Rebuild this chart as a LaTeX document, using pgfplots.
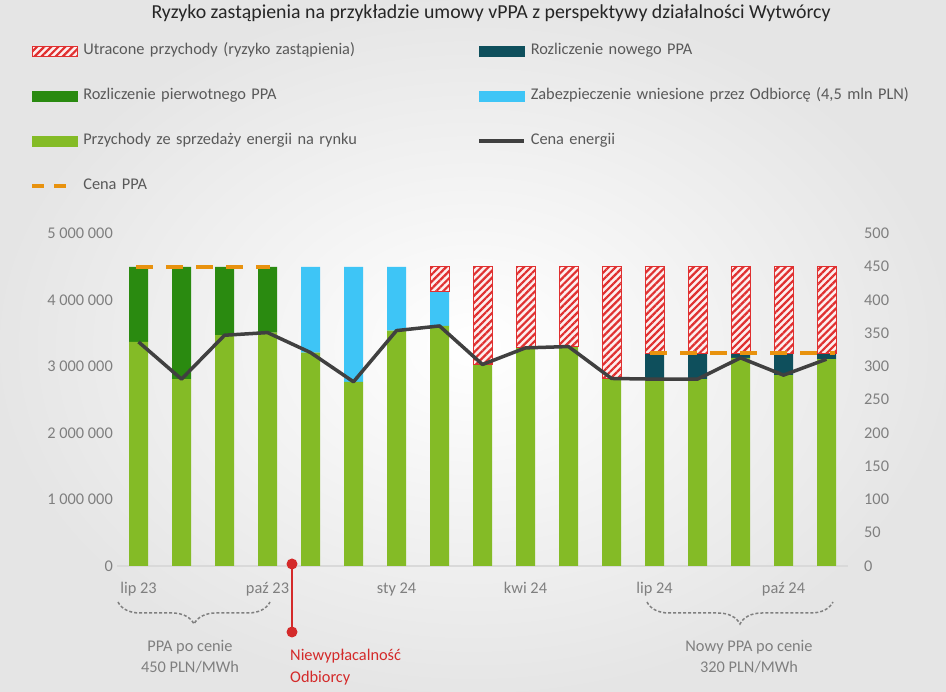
\documentclass[border=0pt]{standalone}
\usepackage{pgfplots}
\pgfplotsset{compat=1.18}
\usepackage{pgfplotstable}
\usepackage{fontspec}
\setmainfont{Carlito}
\usetikzlibrary{patterns,patterns.meta,decorations.pathreplacing}
\definecolor{cMarket}{HTML}{84BB26}
\definecolor{cOrig}{HTML}{2A8A10}
\definecolor{cSec}{HTML}{3EC5F6}
\definecolor{cNew}{HTML}{0E4F5C}
\definecolor{cLost}{HTML}{E03030}
\definecolor{cPrice}{HTML}{404040}
\definecolor{cPPA}{HTML}{E8920E}
\definecolor{cTick}{HTML}{7F7F7F}
\definecolor{cLeg}{HTML}{595959}
\definecolor{cRed}{HTML}{D42A2A}
\definecolor{cAxis}{HTML}{D9D9D9}

\pgfplotstableread{
x market orig sec new price
0 3370000 1130000 0 0 337
1 2810000 1690000 0 0 281
2 3470000 1030000 0 0 347
3 3510000 990000 0 0 351
4 3210000 0 1290000 0 321
5 2770000 0 1730000 0 277
6 3540000 0 960000 0 354
7 3610000 0 520000 0 361
8 3030000 0 0 0 303
9 3280000 0 0 0 328
10 3300000 0 0 0 330
11 2820000 0 0 0 282
12 2810000 0 0 390000 281
13 2810000 0 0 390000 281
14 3130000 0 0 70000 313
15 2870000 0 0 330000 287
16 3110000 0 0 90000 311
}\data

% lost revenue: base = level where the lost segment starts, lost = its height
\pgfplotstableread{
x base lost
7 4130000 370000
8 3030000 1470000
9 3280000 1220000
10 3300000 1200000
11 2820000 1680000
12 3200000 1300000
13 3200000 1300000
14 3200000 1300000
15 3200000 1300000
16 3200000 1300000
}\lostdata

\newcommand{\fs}{\fontsize{16.4}{19}\selectfont}
\tikzset{hatch/.style={fill=cLost!8, postaction={pattern={Lines[angle=45, distance=5bp, line width=2.2bp]}, pattern color=cLost}}}

\begin{document}
\begin{tikzpicture}
\useasboundingbox (0,0) rectangle (946bp,692bp);
\shade[inner color=white, outer color=black!10] (0,0) rectangle (946bp,692bp);

\begin{axis}[
  at={(117bp,126bp)}, anchor=south west,
  scale only axis, width=731bp, height=332.5bp,
  ybar stacked, bar width=19bp,
  xmin=-0.5, xmax=16.5, ymin=0, ymax=5000000,
  scaled y ticks=false,
  axis x line*=bottom, axis y line*=left,
  x axis line style={draw=cAxis, line width=1.2bp},
  y axis line style={draw=none},
  major tick length=0pt,
  xtick={0,3,6,9,12,15},
  xticklabels={lip 23,paź 23,sty 24,kwi 24,lip 24,paź 24},
  ytick={0,1000000,2000000,3000000,4000000,5000000},
  yticklabels={0,1 000 000,2 000 000,3 000 000,4 000 000,5 000 000},
  tick label style={font=\fs, text=cTick},
  yticklabel style={anchor=east, inner sep=0pt, xshift=-4bp},
  xticklabel style={anchor=base, inner sep=0pt, yshift=-28bp},
  clip=false,
  legend columns=2,
  legend cell align=left,
  legend style={at={(axis description cs:-0.11902,1.5684)}, anchor=north west,
    draw=none, fill=none, inner sep=0pt, font=\fs, text=cLeg,
    nodes={inner sep=0pt, text height=10bp, text depth=3bp, text width=380bp, align=left},
    row sep=32bp,
    /tikz/every odd column/.append style={column sep=5bp},
    /tikz/every even column/.append style={column sep=14bp}},
]
\addlegendimage{legend image code/.code={
  \fill[hatch] (0bp,-5bp) rectangle (45bp,5bp);
  \draw[cLost, line width=1bp] (0bp,-5bp) rectangle (45bp,5bp);}}
\addlegendentry{Utracone przychody (ryzyko zastąpienia)}
\addlegendimage{legend image code/.code={\fill[cNew] (0bp,-5bp) rectangle (45bp,5bp);}}
\addlegendentry{Rozliczenie nowego PPA}
\addlegendimage{legend image code/.code={\fill[cOrig] (0bp,-5bp) rectangle (45bp,5bp);}}
\addlegendentry{Rozliczenie pierwotnego PPA}
\addlegendimage{legend image code/.code={\fill[cSec] (0bp,-5bp) rectangle (45bp,5bp);}}
\addlegendentry{Zabezpieczenie wniesione przez Odbiorcę (4,5 mln PLN)}
\addlegendimage{legend image code/.code={\fill[cMarket] (0bp,-5bp) rectangle (45bp,5bp);}}
\addlegendentry{Przychody ze sprzedaży energii na rynku}
\addlegendimage{legend image code/.code={\draw[cPrice, line width=3.5bp] (0bp,0bp) -- (45bp,0bp);}}
\addlegendentry{Cena energii}
\addlegendimage{legend image code/.code={\draw[cPPA, line width=4bp] (0bp,0bp) -- (12bp,0bp) (22bp,0bp) -- (34bp,0bp);}}
\addlegendentry{Cena PPA}

\addplot[forget plot, fill=cMarket, draw=none] table[x=x,y=market]{\data};
\addplot[forget plot, fill=cOrig, draw=none] table[x=x,y=orig]{\data};
\addplot[forget plot, fill=cSec, draw=none] table[x=x,y=sec]{\data};
\addplot[forget plot, fill=cNew, draw=none] table[x=x,y=new]{\data};
\end{axis}

\begin{axis}[
  at={(117bp,126bp)}, anchor=south west,
  scale only axis, width=731bp, height=332.5bp,
  ybar stacked, bar width=19bp,
  xmin=-0.5, xmax=16.5, ymin=0, ymax=5000000,
  axis lines=none, clip=false,
]
\addplot[forget plot, fill=none, draw=none] table[x=x,y=base]{\lostdata};
\addplot[forget plot, hatch, draw=cLost, line width=1bp] table[x=x,y=lost]{\lostdata};
\end{axis}

\begin{axis}[
  at={(117bp,126bp)}, anchor=south west,
  scale only axis, width=731bp, height=332.5bp,
  xmin=-0.5, xmax=16.5, ymin=0, ymax=500,
  axis x line=none, axis y line*=right,
  y axis line style={draw=none},
  major tick length=0pt,
  ytick={0,50,...,500},
  /pgf/number format/assume math mode=true,
  tick label style={font=\fs, text=cTick},
  yticklabel style={anchor=west, inner sep=0pt, xshift=16bp},
  clip=false,
]
\addplot[cPPA, line width=4bp, dash pattern=on 17bp off 13bp] coordinates {(-0.05,450) (3.05,450)};
\addplot[cPPA, line width=4bp, dash pattern=on 17bp off 13bp] coordinates {(11.9,320) (16.2,320)};
\addplot[cPrice, line width=3.5bp, line join=round] table[x=x,y=price]{\data};
\end{axis}

\begin{scope}[shift={(0,692bp)}, x=1bp, y=-1bp]
\node[font=\fontsize{19.9}{23}\selectfont, text=black!85] at (491,13) {Ryzyko zastąpienia na przykładzie umowy vPPA z perspektywy działalności Wytwórcy};
\draw[cRed, line width=2.5bp] (292,564) -- (292,632);
\fill[cRed] (292,564) circle (5.5);
\fill[cRed] (292,632) circle (5.5);
\node[font=\fs, text=cRed, anchor=base west, inner sep=0pt, align=left] at (290,661) {Niewypłacalność};
\node[font=\fs, text=cRed, anchor=base west, inner sep=0pt] at (290,683) {Odbiorcy};
\draw[cTick, line width=1.5bp, dash pattern=on 3bp off 2bp, decorate, decoration={brace, mirror, amplitude=22bp}] (118,602) -- (270,602);
\draw[cTick, line width=1.5bp, dash pattern=on 3bp off 2bp, decorate, decoration={brace, mirror, amplitude=22bp}] (647,602) -- (833,602);
\node[font=\fs, text=cTick, anchor=base, inner sep=0pt] at (190,652) {PPA po cenie};
\node[font=\fs, text=cTick, anchor=base, inner sep=0pt] at (190,673) {450 PLN/MWh};
\node[font=\fs, text=cTick, anchor=base, inner sep=0pt] at (749,652) {Nowy PPA po cenie};
\node[font=\fs, text=cTick, anchor=base, inner sep=0pt] at (749,673) {320 PLN/MWh};
\end{scope}
\end{tikzpicture}
\end{document}
